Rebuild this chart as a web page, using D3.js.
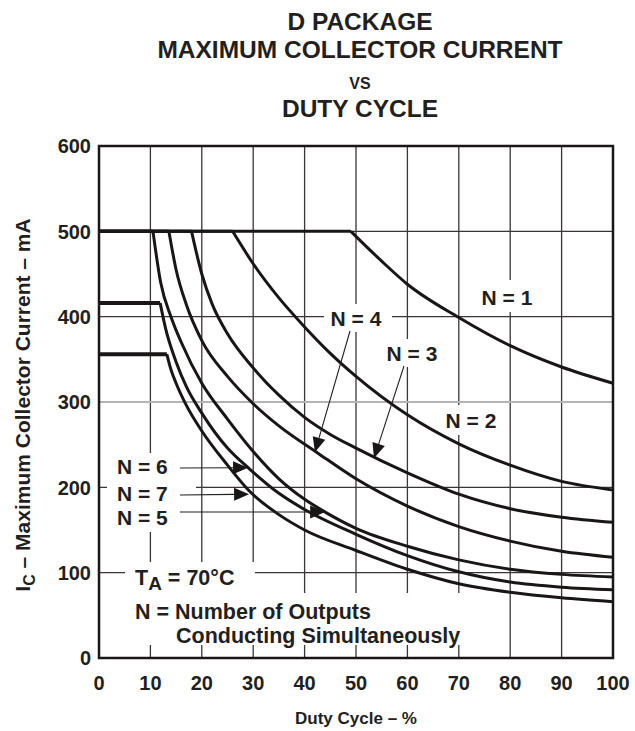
<!DOCTYPE html>
<html>
<head>
<meta charset="utf-8">
<script src="https://cdn.jsdelivr.net/npm/d3@7"></script>
<style>
  body { margin: 0; background: #fff; }
  text { font-family: "Liberation Sans", Arial, sans-serif; font-weight: bold; fill: #231f20; }
</style>
</head>
<body>
<script>
// values (duty cycle %, collector current mA)
var xTicks = [0, 10, 20, 30, 40, 50, 60, 70, 80, 90, 100];
var yTicks = [0, 100, 200, 300, 400, 500, 600];

var seriesNames = ["N = 1", "N = 2", "N = 3", "N = 4", "N = 5", "N = 6", "N = 7"];
var flatLevel = [500, 500, 500, 500, 500, 416, 356];

var dutyN1 = [49, 55, 60, 70, 80, 90, 100];
var currN1 = [500, 465, 438, 399, 366, 341, 322];
var dutyN2 = [26, 30, 35, 40, 45, 50, 60, 70, 80, 90, 100];
var currN2 = [500, 462, 422, 388, 357, 330, 285, 251, 226, 207, 197];
var dutyN3 = [18, 20, 22, 25, 30, 35, 40, 45, 50, 60, 70, 80, 90, 100];
var currN3 = [500, 450, 415, 380, 340, 308, 282, 262, 246, 217, 192, 175, 165, 159];
var dutyN4 = [13.6, 15, 17, 20, 25, 30, 35, 42.6, 50, 60, 70, 80, 90, 100];
var currN4 = [500, 455, 414, 372, 330, 298, 272, 240, 210, 178, 154, 137, 125, 118];
var dutyN5 = [10.5, 12, 14, 16, 20, 25, 30, 35, 40, 44, 50, 60, 70, 80, 90, 100];
var currN5 = [500, 440, 400, 370, 322, 280, 242, 210, 186, 171, 152, 131, 115, 104, 98, 95];
var dutyN6 = [11.9, 13, 15, 17, 20, 25, 29.2, 35, 40, 50, 60, 70, 80, 90, 100];
var currN6 = [416, 385, 347, 318, 287, 246, 222, 193, 174, 145, 120, 101, 89, 83, 80];
var dutyN7 = [13.2, 14, 15, 17, 20, 25, 29.2, 35, 40, 50, 60, 70, 80, 90, 100];
var currN7 = [356, 338, 322, 296, 266, 226, 196, 168, 150, 126, 104, 87, 77, 70.5, 66];

var dutyAll = [dutyN1, dutyN2, dutyN3, dutyN4, dutyN5, dutyN6, dutyN7];
var currAll = [currN1, currN2, currN3, currN4, currN5, currN6, currN7];

var svg = d3.select("body").append("svg")
  .attr("width", 635)
  .attr("height", 731);

var x = d3.scaleLinear().domain([0, 100]).range([99, 613]);
var y = d3.scaleLinear().domain([0, 600]).range([658, 146]);

// grid
var grid = svg.append("g");
grid.selectAll("line.v")
  .data(xTicks.slice(1, -1))
  .enter().append("line")
  .attr("x1", function (d) { return x(d); })
  .attr("x2", function (d) { return x(d); })
  .attr("y1", y(600)).attr("y2", y(0))
  .attr("stroke", "#3b3536").attr("stroke-width", 1.3);
grid.selectAll("line.h")
  .data(yTicks.slice(1, -1))
  .enter().append("line")
  .attr("x1", x(0)).attr("x2", x(100))
  .attr("y1", function (d) { return y(d); })
  .attr("y2", function (d) { return y(d); })
  .attr("stroke", function (d) { return d === 300 ? "#b4b4b4" : "#3b3536"; })
  .attr("stroke-width", function (d) { return d === 300 ? 2.2 : 1.3; });

// white patches behind the labels (grid is broken there)
var patches = [
  [476, 280, 62, 32], [324, 304, 68, 28], [381, 339, 64, 28], [439, 405, 64, 30],
  [107, 453, 89, 79], [125, 562, 130, 31], [125, 593, 345, 52]
];
svg.append("g").selectAll("rect")
  .data(patches)
  .enter().append("rect")
  .attr("x", function (d) { return d[0]; })
  .attr("y", function (d) { return d[1]; })
  .attr("width", function (d) { return d[2]; })
  .attr("height", function (d) { return d[3]; })
  .attr("fill", "#fff");

// curves
var line = d3.line()
  .x(function (d) { return x(d[0]); })
  .y(function (d) { return y(d[1]); })
  .curve(d3.curveMonotoneX);

var curves = svg.append("g").attr("fill", "none").attr("stroke", "#1a1616");
seriesNames.forEach(function (name, i) {
  var pts = dutyAll[i].map(function (d, j) { return [d, currAll[i][j]]; });
  curves.append("line")
    .attr("x1", x(0)).attr("x2", x(pts[0][0]))
    .attr("y1", y(flatLevel[i])).attr("y2", y(flatLevel[i]))
    .attr("stroke-width", flatLevel[i] < 500 ? 4 : 3);
  curves.append("path")
    .attr("d", line(pts))
    .attr("stroke-width", 3);
});

// frame
svg.append("rect")
  .attr("x", x(0)).attr("y", y(600))
  .attr("width", x(100) - x(0)).attr("height", y(0) - y(600))
  .attr("fill", "none").attr("stroke", "#1a1616").attr("stroke-width", 2.5);

// ticks labels
svg.append("g").selectAll("text")
  .data(yTicks)
  .enter().append("text")
  .attr("x", 91)
  .attr("y", function (d) { return y(d); })
  .attr("dy", "0.36em")
  .attr("text-anchor", "end")
  .style("font-size", "20px")
  .text(function (d) { return d; });

svg.append("g").selectAll("text")
  .data(xTicks)
  .enter().append("text")
  .attr("x", function (d) { return x(d); })
  .attr("y", 690)
  .attr("text-anchor", "middle")
  .style("font-size", "20px")
  .text(function (d) { return d; });

// titles
var title = ["D PACKAGE", "MAXIMUM COLLECTOR CURRENT", "VS", "DUTY CYCLE"];
var titleY = [30, 58, 89, 117];
svg.append("g").selectAll("text")
  .data(title)
  .enter().append("text")
  .attr("x", 360)
  .attr("y", function (d, i) { return titleY[i]; })
  .attr("text-anchor", "middle")
  .style("font-size", function (d) { return d === "VS" ? "16px" : "24.5px"; })
  .text(function (d) { return d; });

svg.append("text")
  .attr("x", 356).attr("y", 724)
  .attr("text-anchor", "middle")
  .style("font-size", "17px")
  .text("Duty Cycle \u2013 %");

var yt = svg.append("text")
  .attr("transform", "translate(30,405) rotate(-90)")
  .attr("text-anchor", "middle")
  .style("font-size", "21px");
yt.append("tspan").text("I");
yt.append("tspan").attr("dy", 5).style("font-size", "16px").text("C");
yt.append("tspan").attr("dy", -5).text(" \u2013 Maximum Collector Current \u2013 mA");

// series labels
var labelPos = [[507, 305], [471, 428], [412, 361], [356, 326], [117, 525], [117, 474], [117, 501]];
svg.append("g").selectAll("text")
  .data(seriesNames)
  .enter().append("text")
  .attr("x", function (d, i) { return labelPos[i][0]; })
  .attr("y", function (d, i) { return labelPos[i][1]; })
  .attr("text-anchor", function (d, i) { return i >= 4 ? "start" : "middle"; })
  .style("font-size", "21px")
  .text(function (d) { return d; });

// leader arrows: [from px, to (data)]
var arrows = [
  [[350, 331], [42.0, 241]],
  [[404, 366], [53.5, 234]],
  [[180, 468], [29.0, 223]],
  [[180, 495], [29.2, 192]],
  [[180, 512], [44.0, 171]]
];
var ag = svg.append("g");
arrows.forEach(function (a) {
  var x0 = a[0][0], y0 = a[0][1], x1 = x(a[1][0]), y1 = y(a[1][1]);
  var dx = x1 - x0, dy = y1 - y0, len = Math.sqrt(dx * dx + dy * dy);
  var ux = dx / len, uy = dy / len, L = 15, W = 6.5;
  var bx = x1 - ux * L, by = y1 - uy * L;
  ag.append("line")
    .attr("x1", x0).attr("y1", y0).attr("x2", bx).attr("y2", by)
    .attr("stroke", "#231f20").attr("stroke-width", 1.1);
  ag.append("path")
    .attr("d", "M" + x1 + "," + y1 + "L" + (bx - uy * W) + "," + (by + ux * W) +
      "L" + (bx + uy * W) + "," + (by - ux * W) + "Z")
    .attr("fill", "#1a1616");
});

// notes
var ta = svg.append("text").attr("x", 135).attr("y", 585).style("font-size", "21.5px");
ta.append("tspan").text("T");
ta.append("tspan").attr("dy", 5).style("font-size", "19px").text("A");
ta.append("tspan").attr("dy", -5).text(" = 70\u00b0C");

svg.append("text").attr("x", 135).attr("y", 619).style("font-size", "21.5px")
  .text("N = Number of Outputs");
svg.append("text").attr("x", 176).attr("y", 643).style("font-size", "21.5px")
  .text("Conducting Simultaneously");
</script>
</body>
</html>
